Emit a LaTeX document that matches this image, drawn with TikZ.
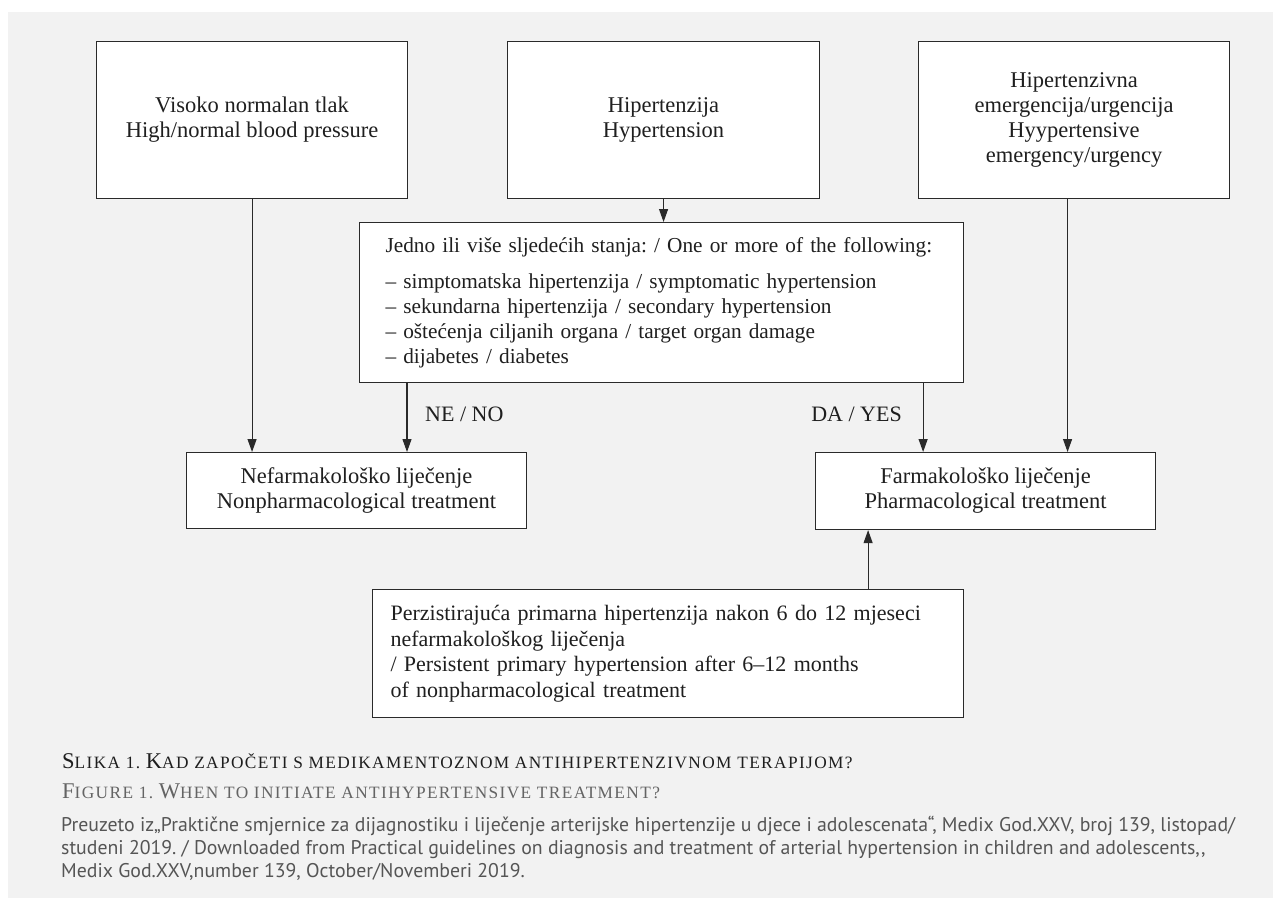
\documentclass[tikz,border=0pt]{standalone}
\usepackage{fontspec}
\setmainfont{Liberation Serif}
\newfontfamily\srcfont{PT Sans}
\newfontfamily\capfont[LetterSpace=8]{Liberation Serif}
\usetikzlibrary{arrows.meta}
\definecolor{bg}{HTML}{F2F2F2}
\definecolor{ink}{HTML}{2A2A2A}
\definecolor{capA}{HTML}{1E1E1E}
\definecolor{capB}{HTML}{646464}
\definecolor{srcgray}{HTML}{555555}
\newcommand\bigL[1]{{\fontsize{22.5}{24}\selectfont #1}}
\frenchspacing
\begin{document}
\begin{tikzpicture}[x=1pt,y=-1pt,
  box/.style={draw=ink, line width=1.1pt, fill=white, anchor=north west,
    inner sep=0pt, align=center, font=\fontsize{22.5}{25}\selectfont, text=black!88},
  arr/.style={draw=ink, line width=1.1pt, -{Triangle[length=13pt,width=9pt]}},
  lbl/.style={font=\fontsize{22}{25}\selectfont, text=black!88, inner sep=0pt},
  capline/.style={anchor=base west, inner sep=0pt, font=\capfont\fontsize{17.3}{19}\selectfont},
  srcline/.style={anchor=base west, inner sep=0pt, font=\srcfont\fontsize{19.8}{22}\selectfont, text=srcgray}]
\useasboundingbox (0,0) rectangle (1273,898);
\fill[white] (0,0) rectangle (1273,898);
\fill[bg] (8,12) rectangle (1273,898);

\node[box, minimum width=311pt, minimum height=157pt] (A) at (96,41)
  {Visoko normalan tlak\\High/normal blood pressure};
\node[box, minimum width=312pt, minimum height=157pt] (B) at (507,41)
  {Hipertenzija\\Hypertension};
\node[box, minimum width=311pt, minimum height=157pt] (C) at (918,41)
  {Hipertenzivna\\emergencija/urgencija\\Hyypertensive\\emergency/urgency};

\node[box, minimum width=604pt, minimum height=160pt, align=left,
  text width=552pt, inner xsep=26pt, font=\fontsize{21.3}{25}\selectfont] (M) at (359,222)
  {Jedno ili više sljedećih stanja: / One or more of the following:\\[11pt]
   – simptomatska hipertenzija / symptomatic hypertension\\
   – sekundarna hipertenzija / secondary hypertension\\
   – oštećenja ciljanih organa / target organ damage\\
   – dijabetes / diabetes};

\node[box, minimum width=340pt, minimum height=76pt] (N) at (186,452)
  {Nefarmakološko liječenje\\Nonpharmacological treatment};
\node[box, minimum width=340pt, minimum height=77pt] (P) at (815,452)
  {Farmakološko liječenje\\Pharmacological treatment};

\node[box, minimum width=591pt, minimum height=128pt, align=left,
  text width=555pt, inner xsep=18pt, font=\fontsize{22}{25.5}\selectfont] (Q) at (372,589)
  {Perzistirajuća primarna hipertenzija nakon 6 do 12 mjeseci\\
   nefarmakološkog liječenja\\
   / Persistent primary hypertension after 6–12 months\\
   of nonpharmacological treatment};

\draw[arr] (A.south) -- (A.south |- N.north);
\draw[arr] (B.south) -- (B.south |- M.north);
\draw[arr] ([xshift=-6.5pt]C.south) -- ([xshift=-6.5pt]C.south |- P.north);
\draw[arr] ([xshift=48pt]M.south west) -- ([xshift=48pt]M.south west |- N.north);
\draw[arr] ([xshift=-41pt]M.south east) -- ([xshift=-41pt]M.south east |- P.north);
\draw[arr] ([xshift=-96pt]Q.north east) -- ([xshift=-96pt]Q.north east |- P.south);

\node[lbl, anchor=west] (no) at (425,414) {NE / NO};
\node[lbl, anchor=east] (yes) at (902,414) {DA / YES};

\node[capline, text=capA] (cap1) at (62,768)
  {\bigL{S}LIKA 1. \bigL{K}AD ZAPOČETI S MEDIKAMENTOZNOM ANTIHIPERTENZIVNOM TERAPIJOM?};
\node[capline, text=capB] (cap2) at (62,798)
  {\bigL{F}IGURE 1. \bigL{W}HEN TO INITIATE ANTIHYPERTENSIVE TREATMENT?};
\node[srcline] (s1) at (61,831)
  {Preuzeto iz„Praktične smjernice za dijagnostiku i liječenje arterijske hipertenzije u djece i adolescenata“, Medix God.XXV, broj 139, listopad/};
\node[srcline] (s2) at (61,854)
  {studeni 2019. / Downloaded from Practical guidelines on diagnosis and treatment of arterial hypertension in children and adolescents,,};
\node[srcline] (s3) at (61,877)
  {Medix God.XXV,number 139, October/Novemberi 2019.};
\end{tikzpicture}
\end{document}
